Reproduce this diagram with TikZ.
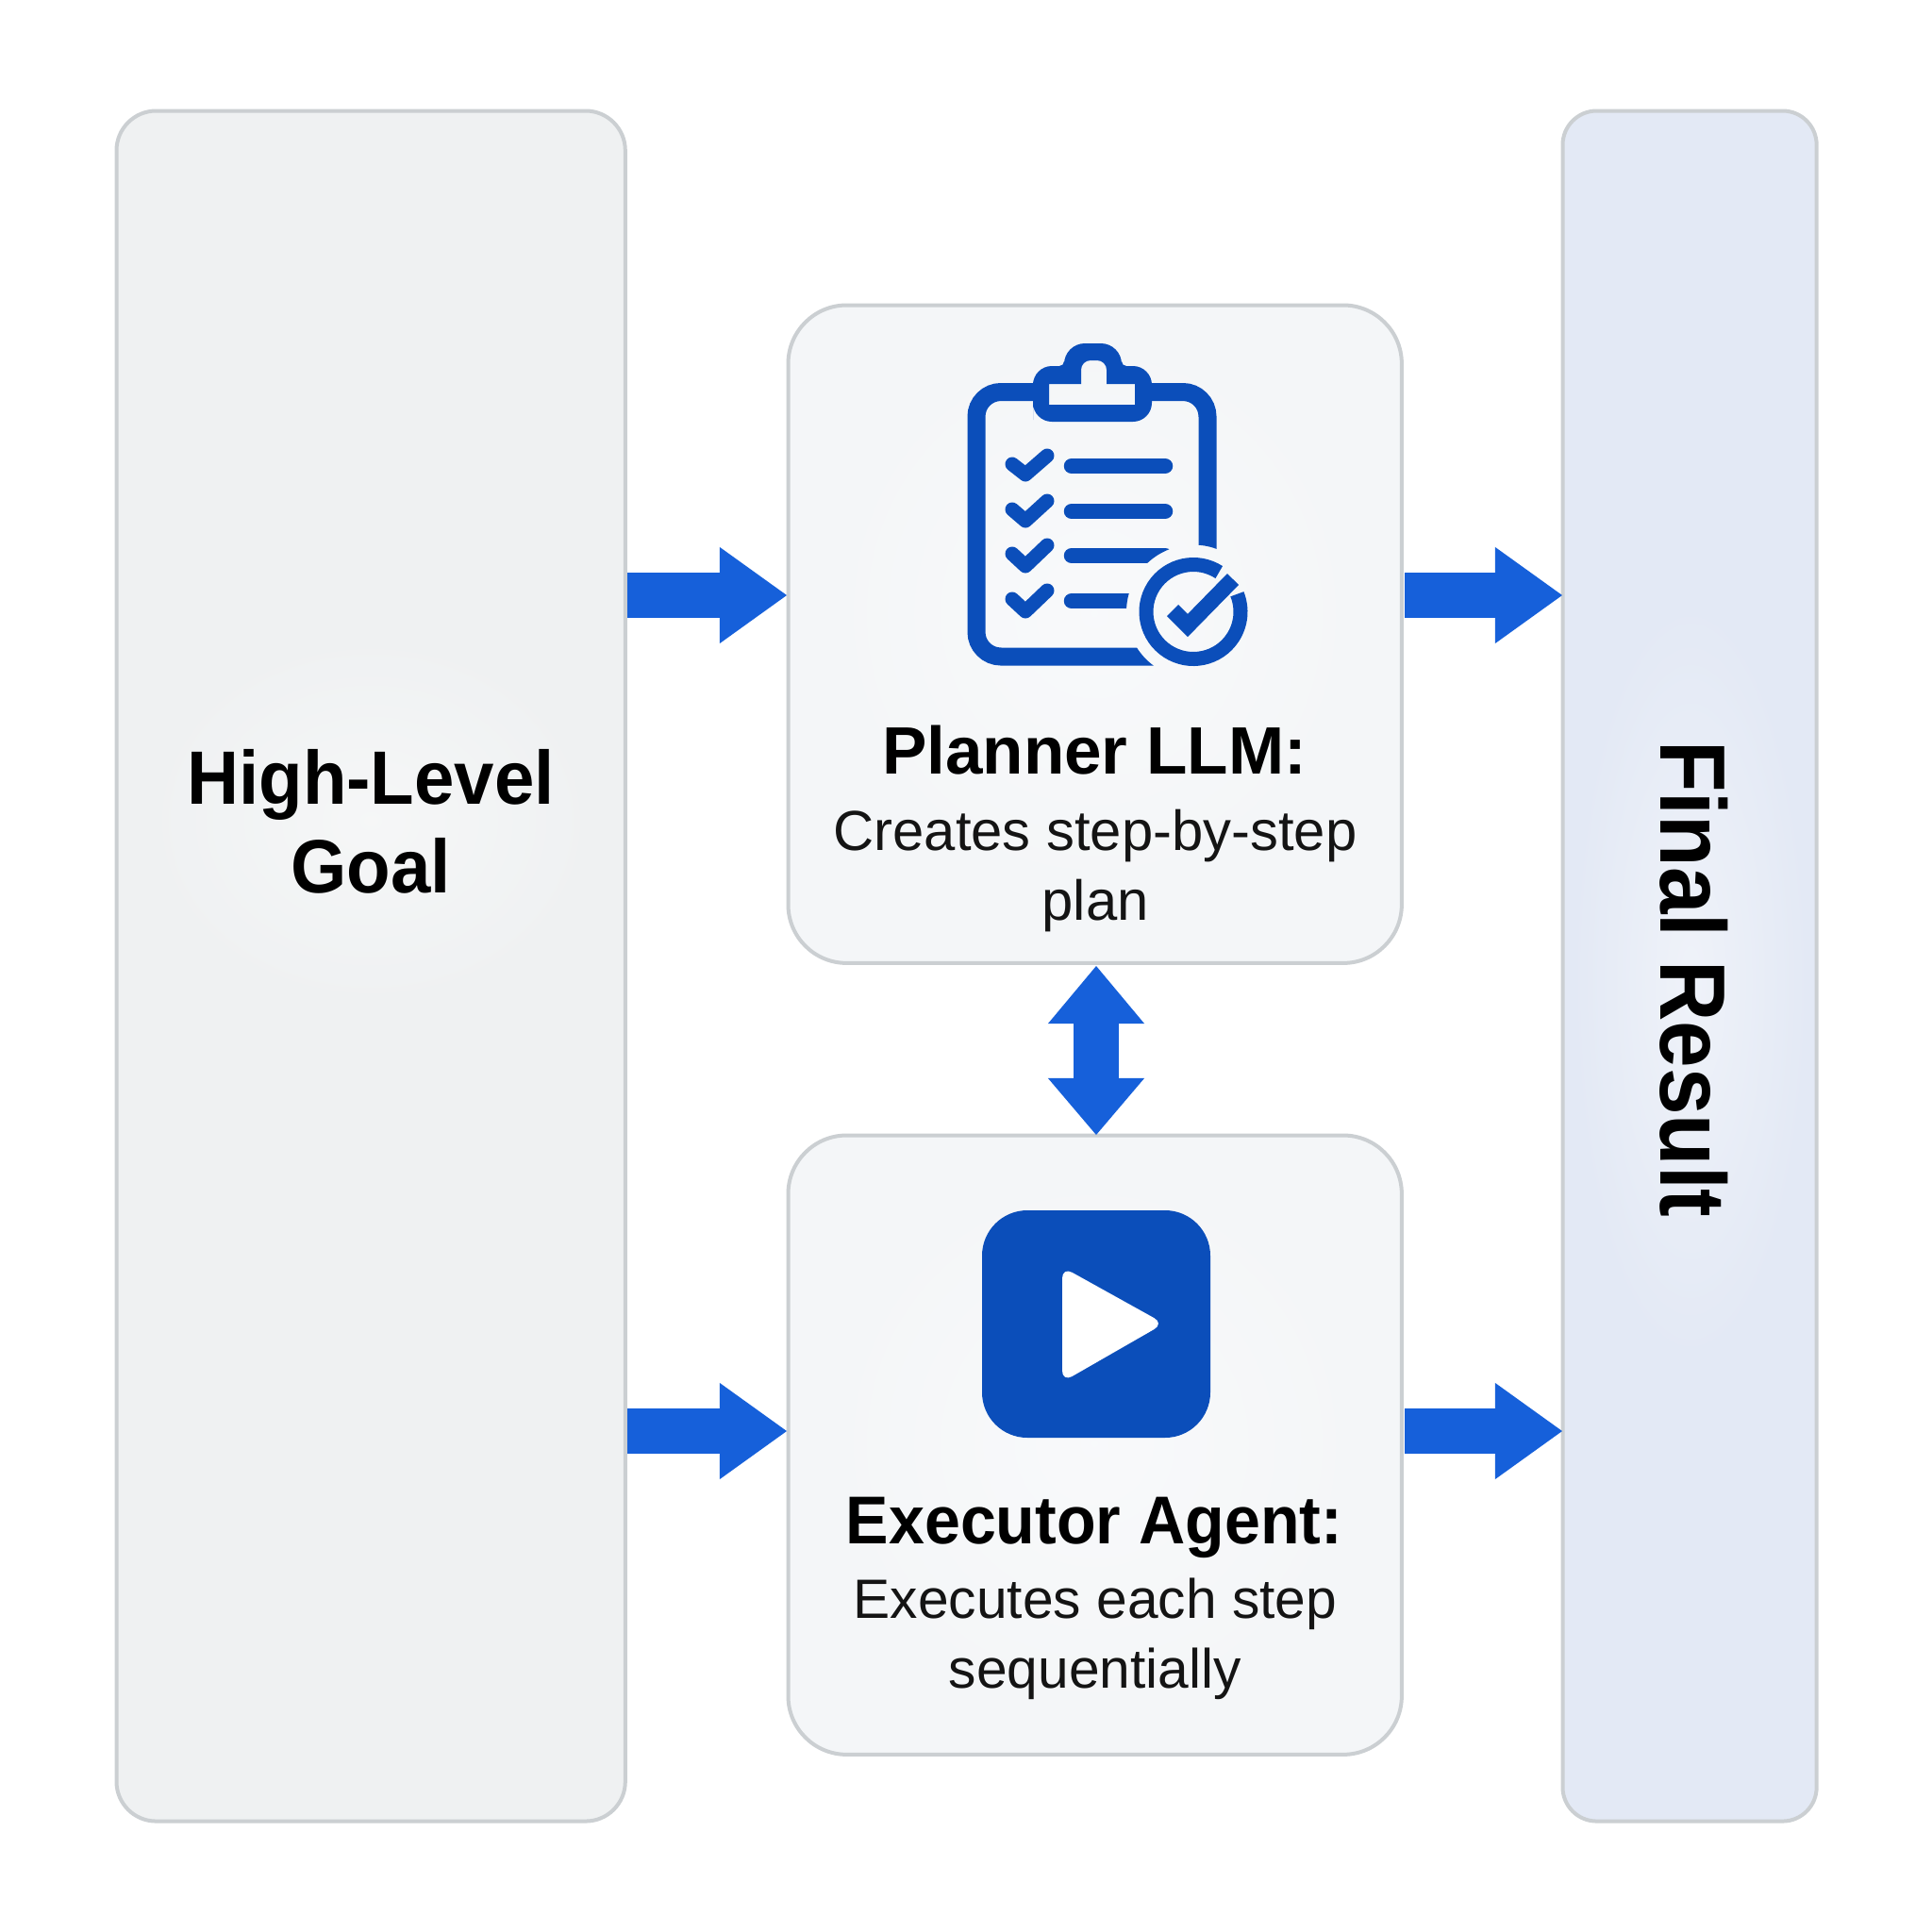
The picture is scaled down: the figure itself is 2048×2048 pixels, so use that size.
\documentclass[tikz,border=0pt]{standalone}
\usepackage{fontspec}
\setmainfont{Liberation Sans}
\usetikzlibrary{arrows.meta,fadings}
\definecolor{arrowblue}{HTML}{1660DA}
\definecolor{iconblue}{HTML}{0B4EBA}
\definecolor{boxline}{HTML}{CBCFD2}
\definecolor{goalfill}{HTML}{EFF1F2}
\definecolor{midfill}{HTML}{F4F6F8}
\definecolor{resfill}{HTML}{E3E9F5}
\tikzfading[name=softglow,inner color=transparent!55,outer color=transparent!100]
\newcommand{\narrow}[1]{\addfontfeature{FakeStretch=#1}}
\tikzset{
  x=0.01cm,y=0.01cm,
  even odd clip/.code={\pgfseteorule},
  panel/.style={draw=boxline,line width=0.04cm,inner sep=0pt,anchor=north west},
  goalbox/.style={panel,fill=goalfill,rounded corners=0.42cm,minimum width=5.39cm,minimum height=18.12cm},
  midbox/.style={panel,fill=midfill,rounded corners=0.62cm,minimum width=6.5cm},
  resbox/.style={panel,fill=resfill,rounded corners=0.36cm,minimum width=2.69cm,minimum height=18.12cm},
  title/.style={font=\bfseries\fontsize{20.2pt}{24pt}\selectfont,text=black,inner sep=0pt,anchor=center},
  desc/.style={font=\fontsize{17pt}{21pt}\selectfont,text=black!92,inner sep=0pt,anchor=center,align=center},
  flow/.style={draw=arrowblue,line width=0.48cm,-{Triangle[length=0.71cm,width=1.02cm,line width=0pt,fill=arrowblue]}},
  flowboth/.style={draw=arrowblue,line width=0.48cm,{Triangle[length=0.61cm,width=1.02cm,line width=0pt,fill=arrowblue]}-{Triangle[length=0.6cm,width=1.02cm,line width=0pt,fill=arrowblue]}},
  stroke/.style={draw=iconblue,line width=0.19cm},
  tick/.style={draw=iconblue,line width=0.15cm,line cap=round,line join=round},
  rowline/.style={draw=iconblue,line width=0.165cm,line cap=round},
  glow/.style={fill=white,path fading=softglow},
}
\begin{document}
\begin{tikzpicture}
\useasboundingbox (0,0) rectangle (2048,-2048);
\fill[white] (0,0) rectangle (2048,-2048);

\node[goalbox] (goal) at (121.5,-115.5) {};
\node[midbox,minimum height=6.97cm] (planner) at (833.5,-321.5) {};
\node[midbox,minimum height=6.56cm] (executor) at (833.5,-1201.5) {};
\node[resbox] (result) at (1654.5,-115.5) {};

% soft light behind the texts and icons
\fill[glow] (393,-870) ellipse[x radius=255,y radius=210];
\fill[glow] (1792,-1040) ellipse[x radius=130,y radius=420];
\fill[glow] (1160,-650) ellipse[x radius=320,y radius=340];
\fill[glow] (1160,-1530) ellipse[x radius=320,y radius=330];

% free ends of the connectors
\coordinate (goalA) at (665,-631);
\coordinate (plannerIn) at (834,-631);
\coordinate (plannerOut) at (1489,-631);
\coordinate (resultA) at (1656,-631);
\coordinate (goalB) at (665,-1517);
\coordinate (executorIn) at (834,-1517);
\coordinate (executorOut) at (1489,-1517);
\coordinate (resultB) at (1656,-1517);
\coordinate (plannerS) at (1162,-1024);
\coordinate (executorN) at (1162,-1203);

\draw[flow] (goalA) -- (plannerIn);
\draw[flow] (plannerOut) -- (resultA);
\draw[flow] (goalB) -- (executorIn);
\draw[flow] (executorOut) -- (resultB);
\draw[flowboth] (plannerS) -- (executorN);

% texts
\node[title,font=\bfseries\fontsize{22.8pt}{26.7pt}\selectfont\narrow{0.95},align=center] (goaltext) at (393,-871) {High-Level\\Goal};
\node[title] (plannertitle) at (1160,-795) {Planner LLM:};
\node[desc] (plannerdesc) at (1161,-923) {Creates step-by-step\\plan};
\node[title,font=\bfseries\fontsize{20.4pt}{24pt}\selectfont\narrow{0.95}] (executortitle) at (1160,-1619) {Executor Agent:};
\node[desc,font=\fontsize{16.7pt}{21pt}\selectfont] (executordesc) at (1161,-1737) {Executes each step\\sequentially};
\node[title,font=\bfseries\fontsize{28pt}{32pt}\selectfont\narrow{0.905},rotate=-90] (resulttext) at (1796,-1038) {Final Result};

% clipboard icon
\begin{scope}
\clip[even odd clip] (1000,-300) rectangle (1400,-750) (1265,-648.5) circle[radius=71];
\draw[stroke,rounded corners=0.26cm] (1100,-415.5) -- (1035,-415.5) -- (1035,-696) -- (1235,-696);
\draw[stroke,rounded corners=0.26cm] (1216,-415.5) -- (1280,-415.5) -- (1280,-600);
\foreach \y/\d in {494/0,542/1,589/2,637/2}{
  \draw[tick] (1073,-\y+2) -- (1087,-\y-9-\d) -- (1110,-\y+11);
  \draw[rowline] (1136,-\y) -- (1235,-\y);
}
\end{scope}
\fill[iconblue,even odd rule]
  (1095,-425) [rounded corners=0.2cm] -- (1095,-447) -- (1221,-447) -- (1221,-388) [rounded corners=0.05cm] -- (1189,-388) [rounded corners=0.22cm] -- (1189,-364) -- (1128,-364) [rounded corners=0.05cm] -- (1128,-388) [rounded corners=0.2cm] -- (1095,-388) -- cycle
  [sharp corners] (1112,-407) -- (1112,-429) -- (1203,-429) -- (1203,-407) -- (1173,-407) [rounded corners=0.1cm] -- (1173,-382) -- (1146,-382) [sharp corners] -- (1146,-407) -- cycle;
\draw[iconblue,line width=0.15cm] (1265,-648.5) ++(57:50) arc[start angle=57,end angle=382,radius=50];
\draw[iconblue,line width=0.17cm,line join=miter] (1243,-647) -- (1259,-663) -- (1307,-614);

% play icon
\fill[iconblue,rounded corners=0.48cm] (1041,-1283) rectangle (1283,-1524);
\fill[white,rounded corners=0.12cm] (1126,-1343) -- (1234,-1403) -- (1126,-1465) -- cycle;
\end{tikzpicture}
\end{document}
